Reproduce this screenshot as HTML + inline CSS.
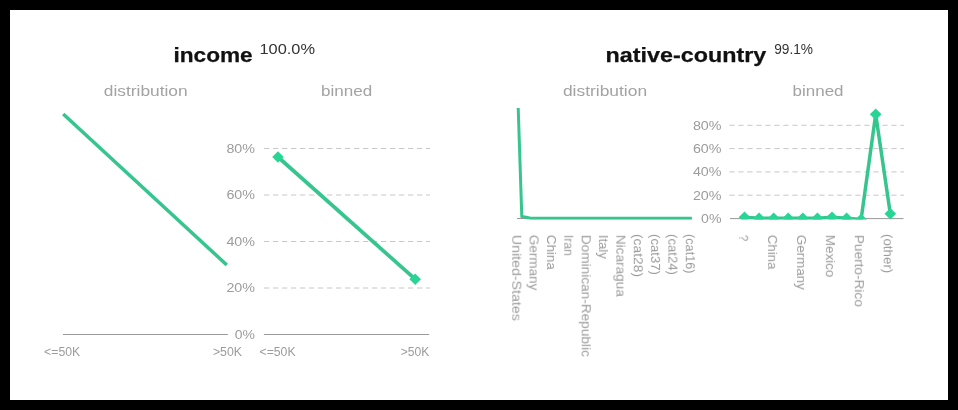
<!DOCTYPE html>
<html><head><meta charset="utf-8"><style>
html,body{margin:0;padding:0;background:#000;width:958px;height:410px;overflow:hidden}
svg{display:block;font-family:"Liberation Sans", sans-serif}
text{will-change:transform}
</style></head><body>
<svg width="958" height="410" viewBox="0 0 958 410">
<rect x="0" y="0" width="958" height="410" fill="#000"/>
<rect x="10" y="10" width="938" height="390" fill="#fff"/>
<line x1="62.9" y1="334.5" x2="227.8" y2="334.5" stroke="#999" stroke-width="1"/>
<path d="M63.2,114 L226.8,265" stroke="#36c58e" stroke-width="3.5" fill="none"/>
<line x1="264" y1="148.5" x2="430" y2="148.5" stroke="#c8c8c8" stroke-width="1" stroke-dasharray="5.3,3.7"/>
<line x1="264" y1="195.0" x2="430" y2="195.0" stroke="#c8c8c8" stroke-width="1" stroke-dasharray="5.3,3.7"/>
<line x1="264" y1="241.5" x2="430" y2="241.5" stroke="#c8c8c8" stroke-width="1" stroke-dasharray="5.3,3.7"/>
<line x1="264" y1="288.0" x2="430" y2="288.0" stroke="#c8c8c8" stroke-width="1" stroke-dasharray="5.3,3.7"/>
<line x1="263.9" y1="334.5" x2="429.2" y2="334.5" stroke="#999" stroke-width="1"/>
<path d="M278,157 L415.2,279.2" stroke="#36c58e" stroke-width="3.7" fill="none"/>
<path d="M278,151.2 L283.8,157 L278,162.8 L272.2,157 Z" fill="#28d595"/>
<path d="M415.2,273.4 L421.0,279.2 L415.2,285.0 L409.4,279.2 Z" fill="#28d595"/>
<line x1="517" y1="218.5" x2="692" y2="218.5" stroke="#999" stroke-width="1"/>
<clipPath id="c1"><rect x="500" y="100" width="200" height="119.7"/></clipPath>
<path clip-path="url(#c1)" d="M518.2,108 L521.8,216.6 L526.2,217.2 L530.5,218.3 L691.8,218.3" stroke="#36c58e" stroke-width="3" fill="none" stroke-linejoin="round"/>
<line x1="729.3" y1="125.3" x2="904" y2="125.3" stroke="#c8c8c8" stroke-width="1" stroke-dasharray="5.3,3.7"/>
<line x1="729.3" y1="148.6" x2="904" y2="148.6" stroke="#c8c8c8" stroke-width="1" stroke-dasharray="5.3,3.7"/>
<line x1="729.3" y1="171.9" x2="904" y2="171.9" stroke="#c8c8c8" stroke-width="1" stroke-dasharray="5.3,3.7"/>
<line x1="729.3" y1="195.2" x2="904" y2="195.2" stroke="#c8c8c8" stroke-width="1" stroke-dasharray="5.3,3.7"/>
<line x1="730" y1="218.6" x2="903.5" y2="218.6" stroke="#999" stroke-width="1"/>
<clipPath id="c2"><rect x="720" y="100" width="200" height="119.5"/></clipPath>
<g clip-path="url(#c2)">
<path d="M744.5,217.2 L759.1,218.3 L773.7,218.3 L788.2,218.3 L802.8,218.3 L817.4,218.3 L832.0,217.3 L846.6,218.3 L861.1,219.5 L875.7,114.3 L890.3,213.8" stroke="#36c58e" stroke-width="3.5" fill="none" stroke-linejoin="miter"/>
<path d="M744.5,211.39999999999998 L750.3,217.2 L744.5,223.0 L738.7,217.2 Z" fill="#28d595"/>
<path d="M759.1,212.5 L764.9,218.3 L759.1,224.10000000000002 L753.3000000000001,218.3 Z" fill="#28d595"/>
<path d="M773.7,212.5 L779.5,218.3 L773.7,224.10000000000002 L767.9000000000001,218.3 Z" fill="#28d595"/>
<path d="M788.2,212.5 L794.0,218.3 L788.2,224.10000000000002 L782.4000000000001,218.3 Z" fill="#28d595"/>
<path d="M802.8,212.5 L808.5999999999999,218.3 L802.8,224.10000000000002 L797.0,218.3 Z" fill="#28d595"/>
<path d="M817.4,212.5 L823.1999999999999,218.3 L817.4,224.10000000000002 L811.6,218.3 Z" fill="#28d595"/>
<path d="M832.0,211.5 L837.8,217.3 L832.0,223.10000000000002 L826.2,217.3 Z" fill="#28d595"/>
<path d="M846.6,212.5 L852.4,218.3 L846.6,224.10000000000002 L840.8000000000001,218.3 Z" fill="#28d595"/>
<path d="M861.1,213.7 L866.9,219.5 L861.1,225.3 L855.3000000000001,219.5 Z" fill="#28d595"/>
<path d="M875.7,108.5 L881.5,114.3 L875.7,120.1 L869.9000000000001,114.3 Z" fill="#28d595"/>
<path d="M890.3,208.0 L896.0999999999999,213.8 L890.3,219.60000000000002 L884.5,213.8 Z" fill="#28d595"/>
</g>
<text x="173.5" y="62.0" font-size="20.7" fill="#111" font-weight="bold" text-anchor="start" textLength="79.2" lengthAdjust="spacingAndGlyphs" stroke="#111" stroke-width="0.25">income</text>
<text x="259.5" y="53.8" font-size="15.5" fill="#333" font-weight="normal" text-anchor="start" textLength="55.5" lengthAdjust="spacingAndGlyphs">100.0%</text>
<text x="605.6" y="62.3" font-size="20.7" fill="#111" font-weight="bold" text-anchor="start" textLength="160.6" lengthAdjust="spacingAndGlyphs" stroke="#111" stroke-width="0.25">native-country</text>
<text x="774.2" y="53.8" font-size="15.5" fill="#333" font-weight="normal" text-anchor="start" textLength="38.8" lengthAdjust="spacingAndGlyphs">99.1%</text>
<text x="103.8" y="95.9" font-size="15" fill="#a3a3a3" font-weight="normal" text-anchor="start" textLength="83.8" lengthAdjust="spacingAndGlyphs">distribution</text>
<text x="321.0" y="95.9" font-size="15.3" fill="#a3a3a3" font-weight="normal" text-anchor="start" textLength="51.2" lengthAdjust="spacingAndGlyphs">binned</text>
<text x="562.9" y="95.9" font-size="15" fill="#a3a3a3" font-weight="normal" text-anchor="start" textLength="84.2" lengthAdjust="spacingAndGlyphs">distribution</text>
<text x="792.6" y="95.9" font-size="15.3" fill="#a3a3a3" font-weight="normal" text-anchor="start" textLength="50.9" lengthAdjust="spacingAndGlyphs">binned</text>
<text x="255" y="152.8" font-size="12" fill="#9c9c9c" font-weight="normal" text-anchor="end" textLength="28.6" lengthAdjust="spacingAndGlyphs">80%</text>
<text x="255" y="199.3" font-size="12" fill="#9c9c9c" font-weight="normal" text-anchor="end" textLength="28.6" lengthAdjust="spacingAndGlyphs">60%</text>
<text x="255" y="245.8" font-size="12" fill="#9c9c9c" font-weight="normal" text-anchor="end" textLength="28.6" lengthAdjust="spacingAndGlyphs">40%</text>
<text x="255" y="292.3" font-size="12" fill="#9c9c9c" font-weight="normal" text-anchor="end" textLength="28.6" lengthAdjust="spacingAndGlyphs">20%</text>
<text x="255" y="338.8" font-size="12" fill="#9c9c9c" font-weight="normal" text-anchor="end" textLength="20.2" lengthAdjust="spacingAndGlyphs">0%</text>
<text x="44.1" y="355.6" font-size="12" fill="#9c9c9c" font-weight="normal" text-anchor="start" textLength="36.1" lengthAdjust="spacingAndGlyphs">&lt;=50K</text>
<text x="212.9" y="355.6" font-size="12" fill="#9c9c9c" font-weight="normal" text-anchor="start" textLength="29.1" lengthAdjust="spacingAndGlyphs">&gt;50K</text>
<text x="259.5" y="355.6" font-size="12" fill="#9c9c9c" font-weight="normal" text-anchor="start" textLength="36.1" lengthAdjust="spacingAndGlyphs">&lt;=50K</text>
<text x="400.8" y="355.6" font-size="12" fill="#9c9c9c" font-weight="normal" text-anchor="start" textLength="28.6" lengthAdjust="spacingAndGlyphs">&gt;50K</text>
<text x="721.5" y="129.6" font-size="12" fill="#9c9c9c" font-weight="normal" text-anchor="end" textLength="28.6" lengthAdjust="spacingAndGlyphs">80%</text>
<text x="721.5" y="152.9" font-size="12" fill="#9c9c9c" font-weight="normal" text-anchor="end" textLength="28.6" lengthAdjust="spacingAndGlyphs">60%</text>
<text x="721.5" y="176.3" font-size="12" fill="#9c9c9c" font-weight="normal" text-anchor="end" textLength="28.6" lengthAdjust="spacingAndGlyphs">40%</text>
<text x="721.5" y="199.6" font-size="12" fill="#9c9c9c" font-weight="normal" text-anchor="end" textLength="28.6" lengthAdjust="spacingAndGlyphs">20%</text>
<text x="721.5" y="222.9" font-size="12" fill="#9c9c9c" font-weight="normal" text-anchor="end" textLength="20.4" lengthAdjust="spacingAndGlyphs">0%</text>
<text transform="translate(512.3,234.8) rotate(90)" x="0" y="0" font-size="12" fill="#9c9c9c" textLength="86" lengthAdjust="spacingAndGlyphs">United-States</text>
<text transform="translate(529.6,234.8) rotate(90)" x="0" y="0" font-size="12" fill="#9c9c9c" textLength="55.5" lengthAdjust="spacingAndGlyphs">Germany</text>
<text transform="translate(547.0,234.8) rotate(90)" x="0" y="0" font-size="12" fill="#9c9c9c" textLength="35" lengthAdjust="spacingAndGlyphs">China</text>
<text transform="translate(564.3,234.8) rotate(90)" x="0" y="0" font-size="12" fill="#9c9c9c" textLength="21" lengthAdjust="spacingAndGlyphs">Iran</text>
<text transform="translate(581.7,234.8) rotate(90)" x="0" y="0" font-size="12" fill="#9c9c9c" textLength="122" lengthAdjust="spacingAndGlyphs">Dominican-Republic</text>
<text transform="translate(599.0,234.8) rotate(90)" x="0" y="0" font-size="12" fill="#9c9c9c" textLength="24" lengthAdjust="spacingAndGlyphs">Italy</text>
<text transform="translate(616.4,234.8) rotate(90)" x="0" y="0" font-size="12" fill="#9c9c9c" textLength="62" lengthAdjust="spacingAndGlyphs">Nicaragua</text>
<text transform="translate(633.8,234.0) rotate(90)" x="0" y="0" font-size="12" fill="#9c9c9c" textLength="43" lengthAdjust="spacingAndGlyphs">(cat28)</text>
<text transform="translate(651.1,234.0) rotate(90)" x="0" y="0" font-size="12" fill="#9c9c9c" textLength="41" lengthAdjust="spacingAndGlyphs">(cat37)</text>
<text transform="translate(668.4,234.0) rotate(90)" x="0" y="0" font-size="12" fill="#9c9c9c" textLength="41" lengthAdjust="spacingAndGlyphs">(cat24)</text>
<text transform="translate(685.8,234.0) rotate(90)" x="0" y="0" font-size="12" fill="#9c9c9c" textLength="39.5" lengthAdjust="spacingAndGlyphs">(cat16)</text>
<text transform="translate(739.2,234.8) rotate(90)" x="0" y="0" font-size="12" fill="#9c9c9c" textLength="6.5" lengthAdjust="spacingAndGlyphs">?</text>
<text transform="translate(768.1,234.8) rotate(90)" x="0" y="0" font-size="12" fill="#9c9c9c" textLength="34.5" lengthAdjust="spacingAndGlyphs">China</text>
<text transform="translate(797.0,234.8) rotate(90)" x="0" y="0" font-size="12" fill="#9c9c9c" textLength="55" lengthAdjust="spacingAndGlyphs">Germany</text>
<text transform="translate(825.9,234.8) rotate(90)" x="0" y="0" font-size="12" fill="#9c9c9c" textLength="42.5" lengthAdjust="spacingAndGlyphs">Mexico</text>
<text transform="translate(854.8,234.8) rotate(90)" x="0" y="0" font-size="12" fill="#9c9c9c" textLength="72" lengthAdjust="spacingAndGlyphs">Puerto-Rico</text>
<text transform="translate(883.7,234.0) rotate(90)" x="0" y="0" font-size="12" fill="#9c9c9c" textLength="39.3" lengthAdjust="spacingAndGlyphs">(other)</text>
</svg>
</body></html>
